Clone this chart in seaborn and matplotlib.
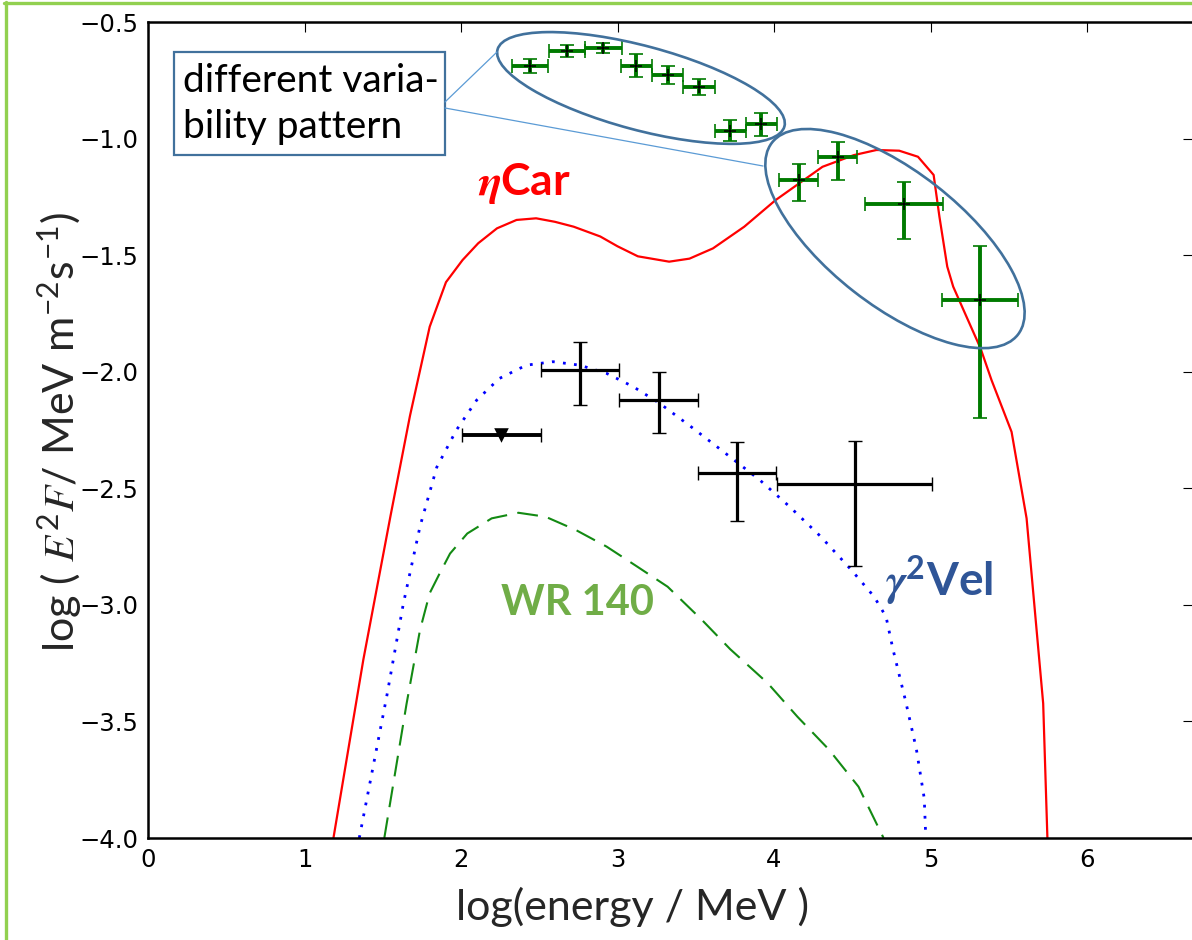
import numpy as np
import pandas as pd
import seaborn as sns
import matplotlib
matplotlib.use("Agg")
import matplotlib.pyplot as plt
from matplotlib.patches import Ellipse, Rectangle
from matplotlib.lines import Line2D
import matplotlib.transforms as mtransforms

# ---------------- data ----------------
etacar_x = [1.185, 1.376, 1.55, 1.674, 1.80, 1.904, 2.01, 2.11, 2.23, 2.355, 2.48, 2.60, 2.72, 2.89,
            3.0, 3.13, 3.33, 3.46, 3.61, 3.81, 4.01, 4.31, 4.51, 4.655, 4.80, 4.92, 5.02, 5.057, 5.107,
            5.145, 5.22, 5.32, 5.39, 5.518, 5.614, 5.72, 5.747]
etacar_y = [-4.0, -3.235, -2.617, -2.189, -1.807, -1.616, -1.521, -1.449, -1.385, -1.349, -1.342, -1.357,
            -1.378, -1.42, -1.462, -1.505, -1.528, -1.515, -1.471, -1.378, -1.264, -1.121, -1.071, -1.049,
            -1.052, -1.078, -1.156, -1.335, -1.549, -1.635, -1.749, -1.90, -2.036, -2.258, -2.629, -3.423,
            -4.0]

gvel_x = [1.35, 1.525, 1.631, 1.738, 1.845, 1.97, 2.10, 2.245, 2.417, 2.588, 2.759, 2.93, 3.10, 3.27,
          3.47, 3.69, 3.91, 4.10, 4.30, 4.495, 4.64, 4.716, 4.76, 4.84, 4.91, 4.96, 4.97]
gvel_y = [-4.0, -3.394, -2.997, -2.664, -2.41, -2.251, -2.122, -2.029, -1.972, -1.957, -1.972, -2.007,
          -2.064, -2.136, -2.236, -2.35, -2.465, -2.579, -2.708, -2.851, -2.965, -3.051, -3.19, -3.41,
          -3.62, -3.83, -4.0]

wr140_x = [1.51, 1.652, 1.738, 1.80, 1.86, 1.93, 2.04, 2.196, 2.367, 2.54, 2.734, 2.93, 3.126, 3.32,
           3.54, 3.72, 3.96, 4.15, 4.35, 4.54, 4.70]
wr140_y = [-4.0, -3.425, -3.108, -2.95, -2.87, -2.78, -2.694, -2.629, -2.605, -2.622, -2.679, -2.75,
           -2.836, -2.922, -3.065, -3.19, -3.336, -3.48, -3.62, -3.78, -4.0]

# green data points (eta Car)
green_x = [2.44, 2.675, 2.91, 3.12, 3.32, 3.52, 3.72, 3.92, 4.157, 4.406, 4.83, 5.316]
green_y = [-0.689, -0.623, -0.610, -0.687, -0.727, -0.777, -0.966, -0.939, -1.178, -1.078, -1.281, -1.693]
green_xerr = [0.117, 0.115, 0.119, 0.10, 0.098, 0.102, 0.098, 0.10, 0.122, 0.125, 0.25, 0.242]
green_yerr_lo = [0.029, 0.025, 0.021, 0.051, 0.039, 0.034, 0.044, 0.05, 0.091, 0.100, 0.149, 0.507]
green_yerr_hi = [0.029, 0.025, 0.021, 0.051, 0.039, 0.034, 0.044, 0.05, 0.069, 0.064, 0.096, 0.232]

# black data points (gamma2 Vel)
black_x = [2.759, 3.263, 3.762, 4.515]
black_y = [-1.993, -2.122, -2.433, -2.483]
black_xerr = [0.248, 0.252, 0.25, 0.497]
black_yerr_lo = [0.149, 0.143, 0.209, 0.351]
black_yerr_hi = [0.12, 0.119, 0.13, 0.187]
ul_x = [2.258]
ul_y = [-2.273]
ul_xerr = [0.25]

x_ticks = [0, 1, 2, 3, 4, 5, 6]
y_ticks = [-4.0, -3.5, -3.0, -2.5, -2.0, -1.5, -1.0, -0.5]

# ---------------- style ----------------
sns.set_style("white")
plt.rcParams.update({
    "font.family": ["DejaVu Sans"],
    "mathtext.fontset": "custom",
    "mathtext.rm": "Lato",
    "mathtext.it": "STIXGeneral:italic",
    "mathtext.bf": "Lato:bold",
    "mathtext.bfit": "STIXGeneral:italic:bold",
})

W, H = 1192, 940
fig = plt.figure(figsize=(W / 100, H / 100), dpi=100)
fig.patch.set_facecolor("white")


def fx(px):
    return px / W


def fy(py):
    return 1 - py / H


ax = fig.add_axes([fx(148), fy(838), (W + 1 - 148) / W, (838 - 22) / H])
ax.set_facecolor("white")

# curves
sns.lineplot(x=etacar_x, y=etacar_y, ax=ax, color="#ff0000", lw=1.6, sort=False, estimator=None)
sns.lineplot(x=gvel_x, y=gvel_y, ax=ax, color="#0000ff", lw=2.0, sort=False, estimator=None,
             linestyle=(0, (1, 3)))
sns.lineplot(x=wr140_x, y=wr140_y, ax=ax, color="#138a13", lw=1.5, sort=False, estimator=None,
             linestyle=(0, (10, 5)))

# green error bars
gc = ax.errorbar(green_x, green_y, xerr=green_xerr, yerr=[green_yerr_lo, green_yerr_hi], fmt="none",
                 ecolor="#007a00", elinewidth=2.8, capsize=5, capthick=1.2, zorder=4)
for c in gc.lines[1]:
    c.set_color("#5cb85c")
sns.scatterplot(x=green_x, y=green_y, ax=ax, marker="+", color="black", s=70, linewidth=1.1, zorder=5)

# black error bars
bc = ax.errorbar(black_x, black_y, xerr=black_xerr, yerr=[black_yerr_lo, black_yerr_hi], fmt="none",
                 ecolor="black", elinewidth=2.3, capsize=5, capthick=1.0, zorder=4)
for c in bc.lines[1]:
    c.set_color("#555555")
uc = ax.errorbar(ul_x, ul_y, xerr=ul_xerr, fmt="none", ecolor="black", elinewidth=2.8, capsize=5,
                 capthick=1.0, zorder=4)
for c in uc.lines[1]:
    c.set_color("#555555")
sns.scatterplot(x=ul_x, y=ul_y, ax=ax, marker="v", color="black", s=110, linewidth=0, zorder=5)

# axes
ax.set_xlim(0, (W + 1 - 148) / 156.5)
ax.set_ylim(-4.0, -0.5)
ax.set_xticks(x_ticks)
ax.set_yticks(y_ticks)
ax.set_yticklabels([f"{v:.1f}".replace("-", "\u2212") for v in y_ticks])
ax.tick_params(direction="in", length=7, width=0.8, top=True, right=True, labelsize=17.5,
               pad=7, colors="black")
for s in ax.spines.values():
    s.set_linewidth(1.8)
    s.set_color("black")

ax.set_xlabel("log(energy / MeV )", fontsize=31, family="Lato")
ax.xaxis.label.set_verticalalignment("baseline")
ax.xaxis.set_label_coords((632 - 148) / (W - 148), -(920 - 838) / 816)
ax.set_ylabel(r"log ( $E^2F$/ MeV m$^{\mathregular{-2}}$s$^{\mathregular{-1}}$)", fontsize=31, family="Lato")
ax.yaxis.label.set_verticalalignment("center")
ax.yaxis.label.set_horizontalalignment("center")
ax.yaxis.set_label_coords((60 - 148) / (W - 148), (838 - 432) / 816)

# ellipses (sizes in inches, centred in data coords)
ell_color = "#41719C"
for (cx, cy, w, h, ang) in [(3.150, -0.783, 2.97, 0.84, -15), (4.773, -1.429, 3.12, 1.34, -38)]:
    tr = fig.dpi_scale_trans + mtransforms.ScaledTranslation(cx, cy, ax.transData)
    e = Ellipse((0, 0), width=w, height=h, angle=ang, transform=tr, fill=False,
                edgecolor=ell_color, lw=1.9, zorder=6)
    ax.add_patch(e)

# annotation box and connectors
fig.add_artist(Line2D([fx(445), fx(497)], [fy(102), fy(52)], color="#5B9BD5", lw=0.9))
fig.add_artist(Line2D([fx(445), fx(763)], [fy(108), fy(166)], color="#5B9BD5", lw=0.9))
fig.add_artist(Rectangle((fx(174), fy(155)), fx(445) - fx(174), fy(52) - fy(155),
                         transform=fig.transFigure, facecolor="white", edgecolor=ell_color, lw=1.6))
fig.text(fx(183), fy(104), "different varia-\nbility pattern", fontsize=28, family="Lato",
         ha="left", va="center", linespacing=1.32, color="black")

# curve labels
fig.text(fx(478), fy(195), r"$\mathbfit{\eta}$Car", fontsize=32, family="Lato", weight="bold",
         color="#ff0000", ha="left", va="baseline")
fig.text(fx(501), fy(615), "WR 140", fontsize=30, family="Lato", weight="bold",
         color="#70AD47", ha="left", va="baseline")
fig.text(fx(885), fy(595), r"$\mathbfit{\gamma}^{\mathbf{2}}$Vel", fontsize=33, family="Lato",
         weight="bold", color="#2F5597", ha="left", va="baseline")

# slide frame
fig.add_artist(Line2D([fx(5.5), fx(5.5)], [0, fy(2)], color="#92D050", lw=2.4))
fig.add_artist(Line2D([fx(4), 1], [fy(3.3), fy(3.3)], color="#92D050", lw=2.4))

fig.savefig("out.png", dpi=100, facecolor="white")
